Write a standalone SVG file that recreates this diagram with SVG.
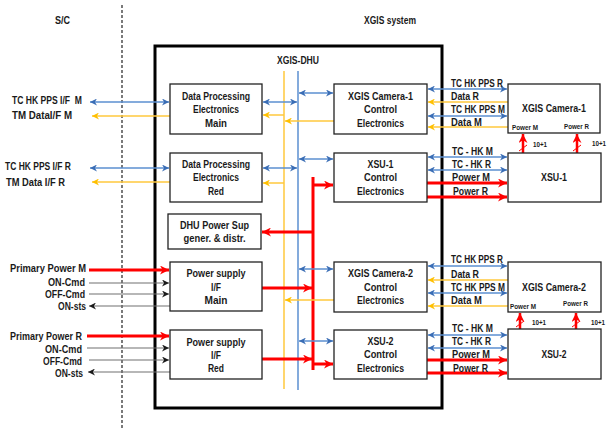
<svg xmlns="http://www.w3.org/2000/svg" width="612" height="431" viewBox="0 0 612 431">
<defs>
<style>
text{font-family:"Liberation Sans",Arial,sans-serif;font-weight:bold;fill:#1a1a1a}
.bt{font-size:10.5px;text-anchor:middle}
.lb{font-size:10.5px}
.le{font-size:10.5px;text-anchor:end}
.sm{font-size:7.5px}
.box{fill:#fff;stroke:#222;stroke-width:1.3}
.b{stroke:#5B8FD0;stroke-width:1.5;fill:none}
.y{stroke:#FFC83D;stroke-width:1.5;fill:none}
.r{stroke:#FF0000;stroke-width:3;fill:none}
.rv{stroke:#FF0000;stroke-width:2.5;fill:none}
.rs{stroke:#FF0000;stroke-width:1;fill:none}
.k{stroke:#707070;stroke-width:1.2;fill:none}
</style>
<marker id="mb" viewBox="0 0 10 10" refX="10" refY="5" markerUnits="userSpaceOnUse" markerWidth="9" markerHeight="7" orient="auto-start-reverse"><path d="M0,0 L10,5 L0,10 L3,5z" fill="#3A6DB5"/></marker>
<marker id="my" viewBox="0 0 10 10" refX="10" refY="5" markerUnits="userSpaceOnUse" markerWidth="9" markerHeight="7" orient="auto-start-reverse"><path d="M0,0 L10,5 L0,10 L3,5z" fill="#FFC000"/></marker>
<marker id="mr" viewBox="0 0 10 10" refX="10" refY="5" markerUnits="userSpaceOnUse" markerWidth="10" markerHeight="9" orient="auto-start-reverse"><path d="M0,0 L10,5 L0,10 L3,5z" fill="#FF0000"/></marker>
<marker id="mk" viewBox="0 0 10 10" refX="10" refY="5" markerUnits="userSpaceOnUse" markerWidth="9" markerHeight="7" orient="auto-start-reverse"><path d="M0,0 L10,5 L0,10 L3,5z" fill="#1a1a1a"/></marker>
</defs>
<rect width="612" height="431" fill="#fff"/>

<g id="headers">
<text class="bt" x="62.5" y="24" textLength="15" lengthAdjust="spacingAndGlyphs">S/C</text>
<text class="bt" x="390" y="24" textLength="52" lengthAdjust="spacingAndGlyphs">XGIS system</text>
<line x1="122" y1="5" x2="122" y2="428" stroke="#333" stroke-width="1.3" stroke-dasharray="3 2"/>
</g>

<g id="xgis-dhu">
<rect x="155" y="46" width="287" height="362" fill="none" stroke="#000" stroke-width="3"/>
<text class="bt" x="298" y="64" textLength="42" lengthAdjust="spacingAndGlyphs">XGIS-DHU</text>
</g>

<g id="connectors">
<line class="y" x1="284" y1="71" x2="284" y2="389"/>
<line class="b" x1="298" y1="71" x2="298" y2="390"/>
<line class="r" x1="313" y1="177" x2="313" y2="370"/>
<line class="b" x1="90" y1="102" x2="169" y2="102" marker-start="url(#mb)" marker-end="url(#mb)"/>
<line class="y" x1="170" y1="116" x2="92" y2="116" marker-end="url(#my)"/>
<line class="b" x1="90" y1="168" x2="169" y2="168" marker-start="url(#mb)" marker-end="url(#mb)"/>
<line class="y" x1="170" y1="182" x2="92" y2="182" marker-end="url(#my)"/>
<line class="r" x1="89" y1="270" x2="169" y2="270" marker-end="url(#mr)"/>
<line class="k" x1="89" y1="283" x2="169" y2="283" marker-end="url(#mk)"/>
<line class="k" x1="89" y1="294" x2="169" y2="294" marker-end="url(#mk)"/>
<line class="k" x1="170" y1="306" x2="89" y2="306" marker-end="url(#mk)"/>
<line class="r" x1="87" y1="336" x2="169" y2="336" marker-end="url(#mr)"/>
<line class="k" x1="87" y1="348" x2="169" y2="348" marker-end="url(#mk)"/>
<line class="k" x1="89" y1="360" x2="169" y2="360" marker-end="url(#mk)"/>
<line class="k" x1="170" y1="372" x2="88" y2="372" marker-end="url(#mk)"/>
<line class="b" x1="263" y1="102" x2="297" y2="102" marker-start="url(#mb)" marker-end="url(#mb)"/>
<line class="y" x1="284" y1="115" x2="263" y2="115" marker-end="url(#my)"/>
<line class="b" x1="299" y1="93" x2="333" y2="93" marker-start="url(#mb)" marker-end="url(#mb)"/>
<line class="y" x1="334" y1="121" x2="285" y2="121" marker-end="url(#my)"/>
<line class="b" x1="263" y1="168" x2="297" y2="168" marker-start="url(#mb)" marker-end="url(#mb)"/>
<line class="y" x1="284" y1="183" x2="263" y2="183" marker-end="url(#my)"/>
<line class="b" x1="299" y1="159" x2="333" y2="159" marker-start="url(#mb)" marker-end="url(#mb)"/>
<line class="r" x1="313" y1="185" x2="333" y2="185" marker-end="url(#mr)"/>
<line class="r" x1="313" y1="232" x2="262" y2="232" marker-end="url(#mr)"/>
<line class="r" x1="262" y1="288" x2="312" y2="288" marker-end="url(#mr)"/>
<line class="b" x1="299" y1="269" x2="333" y2="269" marker-start="url(#mb)" marker-end="url(#mb)"/>
<line class="y" x1="334" y1="300" x2="285" y2="300" marker-end="url(#my)"/>
<line class="b" x1="299" y1="341" x2="333" y2="341" marker-start="url(#mb)" marker-end="url(#mb)"/>
<line class="r" x1="262" y1="359" x2="312" y2="359" marker-end="url(#mr)"/>
<line class="r" x1="313" y1="364" x2="333" y2="364" marker-end="url(#mr)"/>
<line class="b" x1="428" y1="89" x2="507" y2="89" marker-start="url(#mb)" marker-end="url(#mb)"/>
<line class="y" x1="508" y1="102" x2="428" y2="102" marker-end="url(#my)"/>
<line class="b" x1="428" y1="116" x2="507" y2="116" marker-start="url(#mb)" marker-end="url(#mb)"/>
<line class="y" x1="508" y1="127" x2="428" y2="127" marker-end="url(#my)"/>
<line class="b" x1="428" y1="157" x2="507" y2="157" marker-start="url(#mb)" marker-end="url(#mb)"/>
<line class="b" x1="428" y1="170" x2="507" y2="170" marker-start="url(#mb)" marker-end="url(#mb)"/>
<line class="r" x1="427" y1="183" x2="507" y2="183" marker-end="url(#mr)"/>
<line class="r" x1="427" y1="197" x2="507" y2="197" marker-end="url(#mr)"/>
<line class="b" x1="428" y1="266" x2="507" y2="266" marker-start="url(#mb)" marker-end="url(#mb)"/>
<line class="y" x1="508" y1="280" x2="428" y2="280" marker-end="url(#my)"/>
<line class="b" x1="428" y1="293" x2="507" y2="293" marker-start="url(#mb)" marker-end="url(#mb)"/>
<line class="y" x1="508" y1="306" x2="428" y2="306" marker-end="url(#my)"/>
<line class="b" x1="428" y1="335" x2="507" y2="335" marker-start="url(#mb)" marker-end="url(#mb)"/>
<line class="b" x1="428" y1="348" x2="507" y2="348" marker-start="url(#mb)" marker-end="url(#mb)"/>
<line class="r" x1="427" y1="360" x2="507" y2="360" marker-end="url(#mr)"/>
<line class="r" x1="427" y1="373" x2="507" y2="373" marker-end="url(#mr)"/>
<line class="rv" x1="523" y1="153" x2="523" y2="134" marker-end="url(#mr)"/>
<line class="rs" x1="519" y1="151" x2="527" y2="145"/>
<line class="rv" x1="577" y1="153" x2="577" y2="134" marker-end="url(#mr)"/>
<line class="rs" x1="573" y1="151" x2="581" y2="145"/>
<line class="rv" x1="520" y1="329" x2="520" y2="313" marker-end="url(#mr)"/>
<line class="rs" x1="516" y1="327" x2="524" y2="321"/>
<line class="rv" x1="576" y1="329" x2="576" y2="313" marker-end="url(#mr)"/>
<line class="rs" x1="572" y1="327" x2="580" y2="321"/>
<text class="lb" x="12" y="104" xml:space="preserve" textLength="70" lengthAdjust="spacingAndGlyphs">TC HK PPS I/F  M</text>
<text class="lb" x="12" y="119" textLength="60" lengthAdjust="spacingAndGlyphs">TM DataI/F M</text>
<text class="lb" x="5" y="170" textLength="66" lengthAdjust="spacingAndGlyphs">TC HK PPS I/F R</text>
<text class="lb" x="6" y="185.5" textLength="59" lengthAdjust="spacingAndGlyphs">TM Data I/F R</text>
<text class="le" x="86" y="272" textLength="76" lengthAdjust="spacingAndGlyphs">Primary Power M</text>
<text class="le" x="85" y="285.5" textLength="37" lengthAdjust="spacingAndGlyphs">ON-Cmd</text>
<text class="le" x="85" y="297.5" textLength="40" lengthAdjust="spacingAndGlyphs">OFF-Cmd</text>
<text class="le" x="86" y="309.5" textLength="28" lengthAdjust="spacingAndGlyphs">ON-sts</text>
<text class="le" x="82" y="340" textLength="72" lengthAdjust="spacingAndGlyphs">Primary Power R</text>
<text class="le" x="82" y="352.5" textLength="37" lengthAdjust="spacingAndGlyphs">ON-Cmd</text>
<text class="le" x="82" y="365" textLength="39" lengthAdjust="spacingAndGlyphs">OFF-Cmd</text>
<text class="le" x="83" y="377" textLength="28" lengthAdjust="spacingAndGlyphs">ON-sts</text>
<text class="lb" x="451" y="87" textLength="52" lengthAdjust="spacingAndGlyphs">TC HK PPS R</text>
<text class="lb" x="451" y="99.5" textLength="28" lengthAdjust="spacingAndGlyphs">Data R</text>
<text class="lb" x="451" y="113" textLength="54" lengthAdjust="spacingAndGlyphs">TC HK PPS M</text>
<text class="lb" x="451" y="126" textLength="31" lengthAdjust="spacingAndGlyphs">Data M</text>
<text class="lb" x="452" y="154.5" textLength="41" lengthAdjust="spacingAndGlyphs">TC - HK M</text>
<text class="lb" x="452" y="168" textLength="39" lengthAdjust="spacingAndGlyphs">TC - HK R</text>
<text class="lb" x="452" y="181" textLength="38" lengthAdjust="spacingAndGlyphs">Power M</text>
<text class="lb" x="453" y="195" textLength="35" lengthAdjust="spacingAndGlyphs">Power R</text>
<text class="lb" x="451" y="263" textLength="52" lengthAdjust="spacingAndGlyphs">TC HK PPS R</text>
<text class="lb" x="451" y="277.5" textLength="28" lengthAdjust="spacingAndGlyphs">Data R</text>
<text class="lb" x="451" y="290.5" textLength="54" lengthAdjust="spacingAndGlyphs">TC HK PPS M</text>
<text class="lb" x="451" y="304" textLength="31" lengthAdjust="spacingAndGlyphs">Data M</text>
<text class="lb" x="452" y="332" textLength="41" lengthAdjust="spacingAndGlyphs">TC - HK M</text>
<text class="lb" x="452" y="345" textLength="39" lengthAdjust="spacingAndGlyphs">TC - HK R</text>
<text class="lb" x="452" y="358" textLength="38" lengthAdjust="spacingAndGlyphs">Power M</text>
<text class="lb" x="453" y="371.5" textLength="35" lengthAdjust="spacingAndGlyphs">Power R</text>
<text class="sm" x="533" y="147" textLength="14" lengthAdjust="spacingAndGlyphs">10+1</text>
<text class="sm" x="592" y="146" textLength="14" lengthAdjust="spacingAndGlyphs">10+1</text>
<text class="sm" x="532" y="324.5" textLength="14" lengthAdjust="spacingAndGlyphs">10+1</text>
<text class="sm" x="591" y="324.5" textLength="14" lengthAdjust="spacingAndGlyphs">10+1</text>
</g>

<g id="dpe-main"><rect class="box" x="170" y="84" width="92" height="50"/>
<text class="bt" x="216" y="99.5" textLength="68" lengthAdjust="spacingAndGlyphs">Data Processing</text><text class="bt" x="216" y="113" textLength="46" lengthAdjust="spacingAndGlyphs">Electronics</text><text class="bt" x="216" y="126.5" textLength="22" lengthAdjust="spacingAndGlyphs">Main</text></g>
<g id="dpe-red"><rect class="box" x="170" y="153" width="92" height="49"/>
<text class="bt" x="216" y="168" textLength="68" lengthAdjust="spacingAndGlyphs">Data Processing</text><text class="bt" x="216" y="181" textLength="46" lengthAdjust="spacingAndGlyphs">Electronics</text><text class="bt" x="216" y="195" textLength="16" lengthAdjust="spacingAndGlyphs">Red</text></g>
<g id="dhu-power-sup"><rect class="box" x="168" y="214" width="93" height="35"/>
<text class="bt" x="214.5" y="229" textLength="69" lengthAdjust="spacingAndGlyphs">DHU Power Sup</text><text class="bt" x="214.5" y="242" textLength="62" lengthAdjust="spacingAndGlyphs">gener. &amp; distr.</text></g>
<g id="psif-main"><rect class="box" x="170" y="262" width="92" height="49"/>
<text class="bt" x="216" y="277" textLength="59" lengthAdjust="spacingAndGlyphs">Power supply</text><text class="bt" x="216" y="290.5" textLength="10" lengthAdjust="spacingAndGlyphs">I/F</text><text class="bt" x="216" y="304" textLength="23" lengthAdjust="spacingAndGlyphs">Main</text></g>
<g id="psif-red"><rect class="box" x="170" y="330" width="92" height="49"/>
<text class="bt" x="216" y="345.5" textLength="59" lengthAdjust="spacingAndGlyphs">Power supply</text><text class="bt" x="216" y="359" textLength="10" lengthAdjust="spacingAndGlyphs">I/F</text><text class="bt" x="216" y="372" textLength="16" lengthAdjust="spacingAndGlyphs">Red</text></g>

<g id="cam1-ce"><rect class="box" x="334" y="84" width="93" height="50"/>
<text class="bt" x="380.5" y="99.5" textLength="65" lengthAdjust="spacingAndGlyphs">XGIS Camera-1</text><text class="bt" x="380.5" y="112.5" textLength="33" lengthAdjust="spacingAndGlyphs">Control</text><text class="bt" x="380.5" y="126.5" textLength="47" lengthAdjust="spacingAndGlyphs">Electronics</text></g>
<g id="xsu1-ce"><rect class="box" x="334" y="153" width="93" height="49"/>
<text class="bt" x="380.5" y="167.5" textLength="26" lengthAdjust="spacingAndGlyphs">XSU-1</text><text class="bt" x="380.5" y="180.5" textLength="33" lengthAdjust="spacingAndGlyphs">Control</text><text class="bt" x="380.5" y="194.5" textLength="47" lengthAdjust="spacingAndGlyphs">Electronics</text></g>
<g id="cam2-ce"><rect class="box" x="334" y="262" width="93" height="50"/>
<text class="bt" x="380.5" y="277" textLength="65" lengthAdjust="spacingAndGlyphs">XGIS Camera-2</text><text class="bt" x="380.5" y="290.5" textLength="33" lengthAdjust="spacingAndGlyphs">Control</text><text class="bt" x="380.5" y="304" textLength="47" lengthAdjust="spacingAndGlyphs">Electronics</text></g>
<g id="xsu2-ce"><rect class="box" x="334" y="330" width="93" height="49"/>
<text class="bt" x="380.5" y="345" textLength="26" lengthAdjust="spacingAndGlyphs">XSU-2</text><text class="bt" x="380.5" y="358" textLength="33" lengthAdjust="spacingAndGlyphs">Control</text><text class="bt" x="380.5" y="372" textLength="47" lengthAdjust="spacingAndGlyphs">Electronics</text></g>

<g id="cam1"><rect class="box" x="508" y="84" width="92" height="49"/>
<text class="bt" x="554" y="112" textLength="64" lengthAdjust="spacingAndGlyphs">XGIS Camera-1</text>
<text class="sm" x="512" y="130" textLength="26" lengthAdjust="spacingAndGlyphs">Power M</text><text class="sm" x="564" y="129" textLength="25" lengthAdjust="spacingAndGlyphs">Power R</text></g>
<g id="xsu1"><rect class="box" x="508" y="153" width="93" height="49"/>
<text class="bt" x="554" y="180.5" textLength="26" lengthAdjust="spacingAndGlyphs">XSU-1</text></g>
<g id="cam2"><rect class="box" x="508" y="262" width="93" height="50"/>
<text class="bt" x="554" y="290.5" textLength="64" lengthAdjust="spacingAndGlyphs">XGIS Camera-2</text>
<text class="sm" x="510" y="308.5" textLength="26" lengthAdjust="spacingAndGlyphs">Power M</text><text class="sm" x="563" y="306" textLength="25" lengthAdjust="spacingAndGlyphs">Power R</text></g>
<g id="xsu2"><rect class="box" x="508" y="329" width="93" height="50"/>
<text class="bt" x="554" y="358" textLength="25" lengthAdjust="spacingAndGlyphs">XSU-2</text></g>
</svg>
